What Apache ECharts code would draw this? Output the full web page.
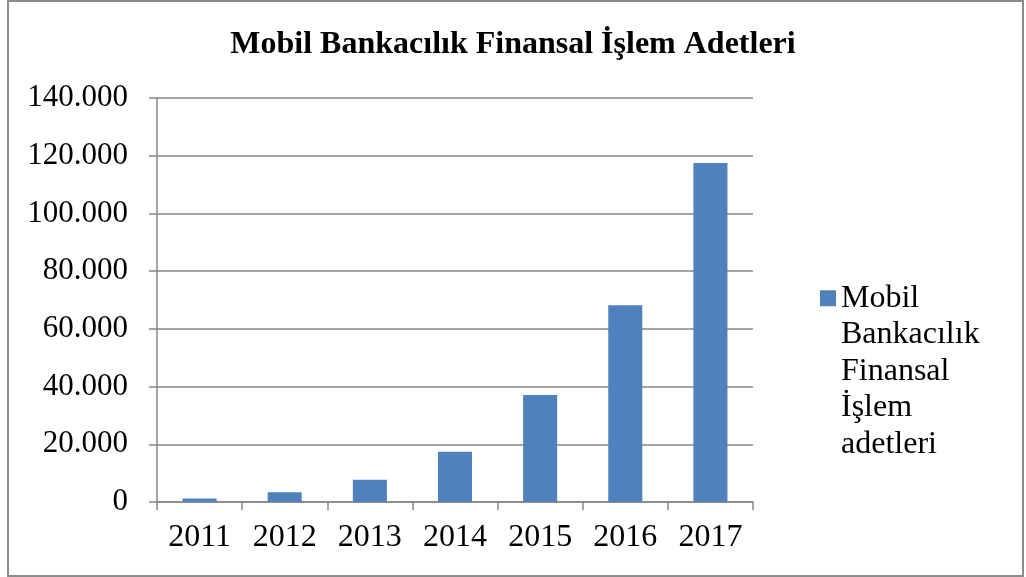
<!DOCTYPE html>
<html>
<head>
<meta charset="utf-8">
<script src="https://cdn.jsdelivr.net/npm/echarts@6/dist/echarts.min.js"></script>
<style>
  html, body { margin: 0; padding: 0; background: #fff; }
  #chart { width: 1026px; height: 577px; }
</style>
</head>
<body>
<div id="chart"></div>
<script>
const titleText = 'Mobil Bankacılık Finansal İşlem Adetleri';
const seriesName = 'Mobil Bankacılık Finansal İşlem adetleri';
const legendLines = ['Mobil', 'Bankacılık', 'Finansal', 'İşlem', 'adetleri'];
const years = ['2011', '2012', '2013', '2014', '2015', '2016', '2017'];
const values = [1200, 3400, 7700, 17400, 37100, 68200, 117500];
const yMin = 0;
const yMax = 140000;
const yInterval = 20000;

const FONT = '"Liberation Serif", "Times New Roman", serif';
const LINE_H = 36.5;

function fmtThousands(v) {
  return String(v).replace(/\B(?=(\d{3})+(?!\d))/g, '.');
}

const chart = echarts.init(document.getElementById('chart'), null, { renderer: 'canvas' });
chart.setOption({
  animation: false,
  backgroundColor: '#ffffff',
  title: {
    text: titleText,
    left: 'center',
    top: 24,
    textStyle: { fontFamily: FONT, fontWeight: 'bold', fontSize: 32, color: '#000' }
  },
  graphic: [{
    type: 'rect',
    shape: { x: 8, y: 1, width: 1015, height: 575 },
    style: { fill: 'none', stroke: '#8c8c8c', lineWidth: 2 },
    silent: true
  }],
  legend: {
    left: 820,
    top: 134,
    padding: 0,
    itemWidth: 16,
    itemHeight: 16,
    icon: 'rect',
    formatter: function () { return '\n\n\n\n' + legendLines.join('\n'); },
    textStyle: {
      fontFamily: FONT, fontSize: 32, color: '#000',
      lineHeight: LINE_H
    },
    data: [seriesName]
  },
  grid: { left: 157, right: 273, top: 98, bottom: 75, containLabel: false },
  xAxis: {
    type: 'category',
    data: years,
    axisLine: { lineStyle: { color: '#868686', width: 1.5 } },
    axisTick: { show: true, length: 8, lineStyle: { color: '#868686', width: 1.5 } },
    axisLabel: { fontFamily: FONT, fontSize: 32, color: '#000', margin: 20 }
  },
  yAxis: {
    type: 'value',
    min: yMin, max: yMax, interval: yInterval,
    axisLine: { show: true, lineStyle: { color: '#868686', width: 1.5 } },
    axisTick: { show: true, length: 8, lineStyle: { color: '#868686', width: 1.5 } },
    splitLine: { show: true, lineStyle: { color: '#868686', width: 1.5 } },
    axisLabel: { fontFamily: FONT, fontSize: 31, color: '#000', margin: 29, formatter: fmtThousands }
  },
  series: [{
    name: seriesName,
    type: 'bar',
    data: values,
    barCategoryGap: '60%',
    itemStyle: { color: '#4F81BD' }
  }]
});
</script>
</body>
</html>
